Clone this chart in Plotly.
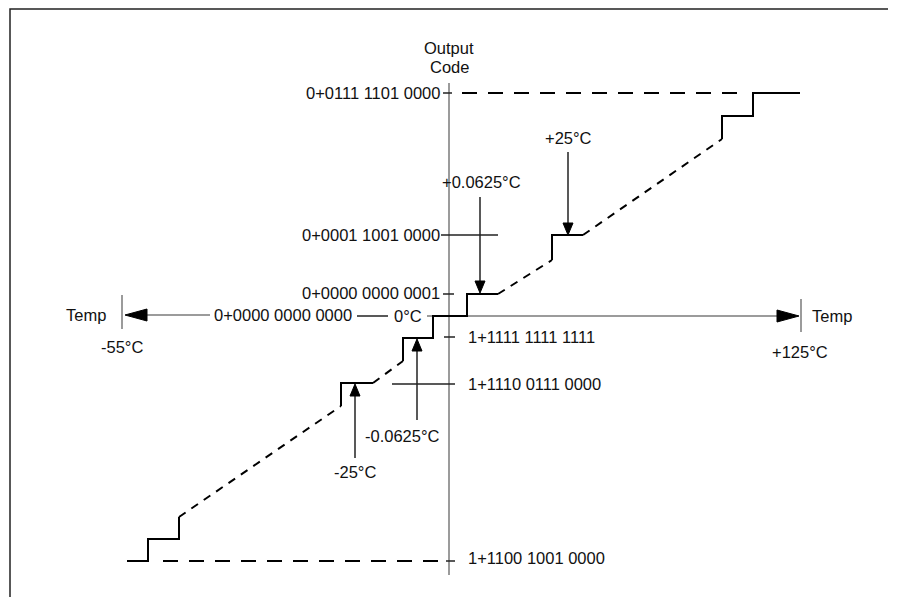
import plotly.graph_objects as go

# ---- diagram data (schematic coordinates, origin top-left) ----
step_solid_x = [127, 148, 148, 179, 179, None, 341, 341, 373, None,
                403, 403, 433, 433, 467, 467, 498, None, 552, 552, 583, None,
                722, 722, 753, 753, 800]
step_solid_y = [561, 561, 539, 539, 517, None, 406, 383, 383, None,
                361, 338, 338, 316, 316, 294, 294, None, 260, 235, 235, None,
                139, 116, 116, 93, 93]

step_dash_x = [179, 341, None, 373, 403, None, 498, 552, None, 583, 722]
step_dash_y = [517, 406, None, 383, 361, None, 294, 260, None, 235, 139]

limit_dash_x = [462, 740, None, 163, 443]
limit_dash_y = [93, 93, None, 561, 561]

code_tick_x = [443, 452, None, 441, 498, None, 443, 454, None, 444, 455, None,
               392, 455, None, 446, 455, None, 357, 388]
code_tick_y = [93, 93, None, 235, 235, None, 294, 294, None, 337, 337, None,
               384, 384, None, 561, 561, None, 316, 316]

axis_x = [449, 449, None, 427, 782, None, 147, 210, None, 122, 122, None, 801, 801]
axis_y = [83, 575, None, 316, 316, None, 315, 315, None, 295, 329, None, 299, 332]

# arrows: shaft x, shaft start y, tip y
pointer_x = [568, 480, 417, 355]
pointer_from = [152, 197, 420, 458]
pointer_tip = [235, 293, 339, 384]

# axis arrowheads: tip x, y, direction
axis_head_x = [799, 125]
axis_head_y = [316, 315]
axis_head_dir = [1, -1]

# texts
code_labels_left = ["0+0111 1101 0000", "0+0001 1001 0000", "0+0000 0000 0001"]
code_labels_left_y = [93, 235, 293]
code_labels_right = ["1+1111 1111 1111", "1+1110 0111 0000", "1+1100 1001 0000"]
code_labels_right_y = [337, 384, 558]
pointer_labels = ["+25°C", "+0.0625°C", "-0.0625°C", "-25°C"]
pointer_label_x = [568, 481, 402, 355]
pointer_label_y = [138, 182, 436, 472]

FONT = dict(family="Liberation Sans, Arial, sans-serif", size=16.5, color="#111")

fig = go.Figure()

def add_line(xs, ys, color="black", width=2, dash="solid"):
    fig.add_trace(go.Scatter(x=xs, y=ys, mode="lines",
                             line=dict(color=color, width=width, dash=dash),
                             hoverinfo="skip", showlegend=False))

def add_tri(px, py):
    fig.add_trace(go.Scatter(x=px, y=py, mode="lines", fill="toself",
                             fillcolor="black", line=dict(color="black", width=1),
                             hoverinfo="skip", showlegend=False))

# frame
add_line([10, 10, 888], [597, 9, 9], color="#222", width=1.5)

# axes
add_line(axis_x, axis_y, color="#7a7a7a", width=1.5)
for tx, ty, d in zip(axis_head_x, axis_head_y, axis_head_dir):
    base = tx - d * 22
    add_tri([tx, base, base, tx], [ty, ty - 6, ty + 6, ty])

# code ticks
add_line(code_tick_x, code_tick_y, color="#222", width=1.5)

# limit dashed lines
add_line(limit_dash_x, limit_dash_y, color="black", width=2, dash="15px,11px")

# transfer function
add_line(step_dash_x, step_dash_y, color="black", width=2, dash="8px,7px")
add_line(step_solid_x, step_solid_y, color="black", width=2)

# pointers
for x, y0, tip in zip(pointer_x, pointer_from, pointer_tip):
    d = 1 if y0 < tip else -1
    base = tip - d * 12
    add_line([x, x], [y0, base], color="#222", width=1.5)
    add_tri([x, x - 5, x + 5, x], [tip, base, base, tip])

ann = []
def txt(s, x, y, anchor="center"):
    ann.append(dict(text=s, x=x, y=y, xref="x", yref="y", showarrow=False,
                    xanchor=anchor, yanchor="middle", font=FONT))

txt("Output", 449, 48)
txt("Code", 449, 67)
for s, y in zip(code_labels_left, code_labels_left_y):
    txt(s, 442, y, "right")
for s, y in zip(code_labels_right, code_labels_right_y):
    txt(s, 466, y, "left")
for s, x, y in zip(pointer_labels, pointer_label_x, pointer_label_y):
    txt(s, x, y)
txt("Temp", 86, 315)
txt("0+0000 0000 0000", 354, 315, "right")
txt("0°C", 392, 316, "left")
txt("Temp", 810, 316, "left")
txt("-55°C", 122, 347)
txt("+125°C", 800, 352)

fig.update_layout(
    width=897, height=597,
    margin=dict(l=0, r=0, t=0, b=0),
    paper_bgcolor="white", plot_bgcolor="white",
    xaxis=dict(range=[0, 897], visible=False, fixedrange=True),
    yaxis=dict(range=[597, 0], visible=False, fixedrange=True),
    annotations=ann,
)

fig.write_html("out.html", config={"displayModeBar": False},
               post_script="document.body.style.margin='0';document.body.style.overflow='hidden';")
